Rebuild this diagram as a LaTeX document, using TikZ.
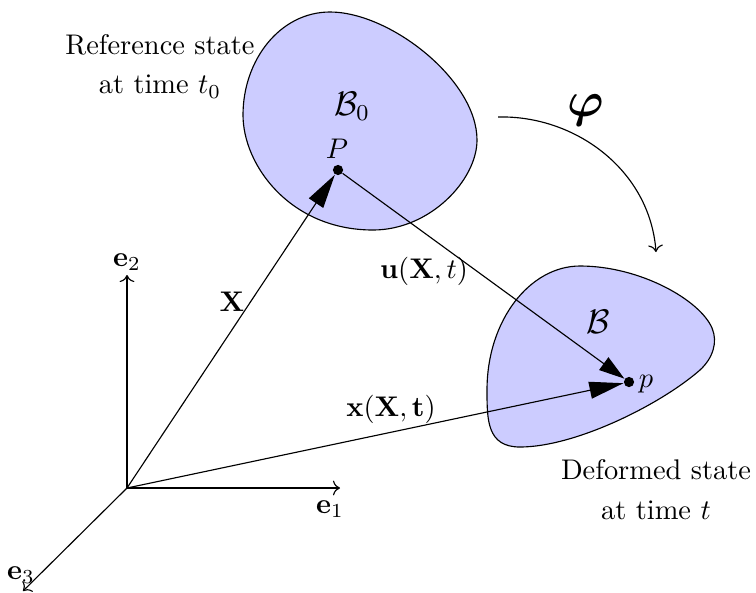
\documentclass[tikz,border=0pt]{standalone}
\usepackage{amsmath,amssymb}
\usetikzlibrary{arrows.meta}
\begin{document}
\begin{tikzpicture}[x=0.352pt,y=-0.352pt,
  body/.style={draw=black,fill=blue!20,line width=0.4pt},
  dotnode/.style={circle,fill=black,inner sep=0pt,minimum size=3.6pt},
  bigarrow/.style={-{Triangle[length=12pt,width=6pt]}},
  midarrow/.style={-{Triangle[length=9pt,width=5.5pt]}},
  axis/.style={->},
  txt/.style={align=center,inner sep=0pt}]
\useasboundingbox (0,0) rectangle (756,592);
% bodies
\draw[body] (243,115) .. controls (243,60) and (280,12) .. (330,12)
  .. controls (390,12) and (477,80) .. (477,140)
  .. controls (477,180) and (430,230) .. (373,230)
  .. controls (290,230) and (243,165) .. cycle;
\draw[body] (487,390) .. controls (487,320) and (530,266) .. (580,266)
  .. controls (640,266) and (700,300) .. (712,328)
  .. controls (718,342) and (713,358) .. (700,370)
  .. controls (660,405) and (575,447) .. (520,447)
  .. controls (487,447) and (487,420) .. cycle;
% points
\coordinate (O) at (127,488);
\coordinate (E1) at (340,488);
\coordinate (E2) at (127,275);
\coordinate (E3) at (23,591);
\node[dotnode] (P) at (338,170) {};
\node[dotnode] (p) at (629,382) {};
\coordinate (phiA) at (498,117);
\coordinate (phiB) at (656,252);
% axes
\draw[axis] (O) -- (E1);
\draw[axis] (O) -- (E2);
\draw[axis] (O) -- (E3);
% vectors
\draw[bigarrow] (O) -- (P);
\draw[bigarrow] (O) -- (p);
\draw[midarrow] (P) -- (p);
% mapping
\draw[->] (phiA) .. controls (575,115) and (650,170) .. (phiB);
% labels
\node (le1) at (330,509) {$\mathbf{e}_1$};
\node (le2) at (127,262) {$\mathbf{e}_2$};
\node (le3) at (21,575) {$\mathbf{e}_3$};
\node (lX) at (232,302) {$\mathbf{X}$};
\node (lu) at (424,271) {$\mathbf{u}(\mathbf{X},t)$};
\node (lx) at (391,409) {$\mathbf{x}(\mathbf{X},\mathbf{t})$};
\node (lP) at (337,149) {$P$};
\node (lp) at (646,384) {$p$};
\node (lB0) at (352,106) {\large $\mathcal{B}_0$};
\node (lB) at (598,322) {\large $\mathcal{B}$};
\node (lphi) at (586,110) {\LARGE $\boldsymbol{\varphi}$};
\node[txt] (ref) at (160,66) {Reference state\\[2pt]at time $t_0$};
\node[txt] (def) at (656,490) {Deformed state\\[2pt]at time $t$};
\end{tikzpicture}
\end{document}
